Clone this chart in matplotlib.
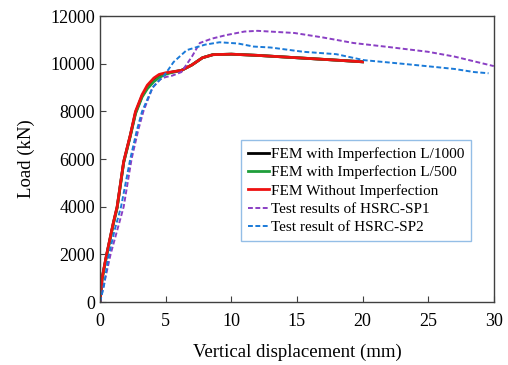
import numpy as np
import matplotlib.pyplot as plt

plt.rcParams['font.family'] = ['Liberation Serif', 'DejaVu Serif']

# ── データ───────────────────────────────────────────────────
fem_x = [0, 0.15, 0.5, 1.0, 1.3, 1.8, 2.3, 2.7, 3.2, 3.6, 4.1, 4.5, 5.0, 5.5,
         6.2, 7.0, 7.8, 8.6, 10.0, 12.0, 15.0, 18.0, 20.0]
fem_none = [0, 1000, 2000, 3300, 4000, 5900, 7000, 8000, 8700, 9100, 9400, 9550, 9620,
            9660, 9720, 9950, 10250, 10380, 10400, 10350, 10250, 10150, 10080]
fem_500 = [0, 950, 1950, 3250, 3950, 5850, 6950, 7900, 8600, 8950, 9250, 9420, 9560,
           9640, 9720, 9950, 10250, 10380, 10400, 10350, 10250, 10150, 10080]
fem_1000 = [0, 980, 1980, 3280, 3980, 5880, 6980, 7950, 8650, 9000, 9300, 9480, 9590,
            9650, 9720, 9950, 10250, 10380, 10400, 10350, 10250, 10150, 10080]

sp1_x = [0, 0.4, 0.8, 1.3, 1.8, 2.4, 2.9, 3.3, 4.0, 4.6, 5.0, 5.5, 6.2, 7.0,
         7.6, 8.5, 9.6, 11.0, 12.0, 14.8, 17.0, 19.3, 22.0, 25.0, 27.0, 30.0]
sp1_y = [0, 1000, 2000, 3000, 4000, 6000, 7200, 8000, 9000, 9350, 9440, 9500, 9650,
         10300, 10870, 11050, 11200, 11350, 11380, 11290, 11100, 10870, 10700, 10500,
         10300, 9900]

sp2_x = [0, 0.3, 0.6, 1.1, 1.6, 2.3, 2.8, 3.2, 4.0, 4.5, 4.8, 5.2, 5.6, 6.6, 8.0,
         9.1, 10.5, 11.7, 13.0, 15.5, 18.0, 20.1, 23.0, 25.4, 27.0, 28.5, 29.6]
sp2_y = [0, 700, 1800, 3000, 4000, 6000, 7200, 8000, 9000, 9300, 9450, 9750, 10070,
         10570, 10800, 10900, 10850, 10720, 10680, 10500, 10400, 10150, 10000, 9870,
         9780, 9650, 9600]

labels = ["FEM with Imperfection L/1000", "FEM with Imperfection L/500",
          "FEM Without Imperfection", "Test results of HSRC-SP1",
          "Test result of HSRC-SP2"]

fig = plt.figure(figsize=(5.08, 3.65), dpi=100)
ax = fig.add_axes([0.197, 0.1726, 0.775, 0.7834])

ax.plot(fem_x, fem_1000, color="black", lw=2.0, label=labels[0])
ax.plot(fem_x, fem_500, color="#1e9e3a", lw=2.0, label=labels[1])
ax.plot(fem_x, fem_none, color="#ee1111", lw=2.0, label=labels[2])
ax.plot(sp1_x, sp1_y, color="#8a3fc4", lw=1.4, ls=(0, (2.5, 1.3)), label=labels[3])
ax.plot(sp2_x, sp2_y, color="#1a7ad8", lw=1.4, ls=(0, (2.5, 1.3)), label=labels[4])

ax.set_xlim(0, 30)
ax.set_ylim(0, 12000)
ax.set_xticks([0, 5, 10, 15, 20, 25, 30])
ax.set_yticks(np.arange(0, 12001, 2000))
ax.tick_params(direction="in", labelsize=13, length=4, color="#404040")
ax.tick_params(axis="x", pad=8)
for s in ax.spines.values():
    s.set_color("#404040")
    s.set_linewidth(1.0)

ax.set_xlabel("Vertical displacement (mm)", fontsize=13.5, labelpad=10)
ax.set_ylabel("Load (kN)", fontsize=13.5, labelpad=11)

leg = ax.legend(loc="upper left", bbox_to_anchor=(0.358, 0.565), fontsize=11,
                frameon=True, fancybox=False, handlelength=1.4, handletextpad=0.1,
                labelspacing=0.3, borderpad=0.45, borderaxespad=0)
leg.get_frame().set_edgecolor("#7aaee0")
leg.get_frame().set_linewidth(1.0)

fig.savefig("out.png", dpi=100)
